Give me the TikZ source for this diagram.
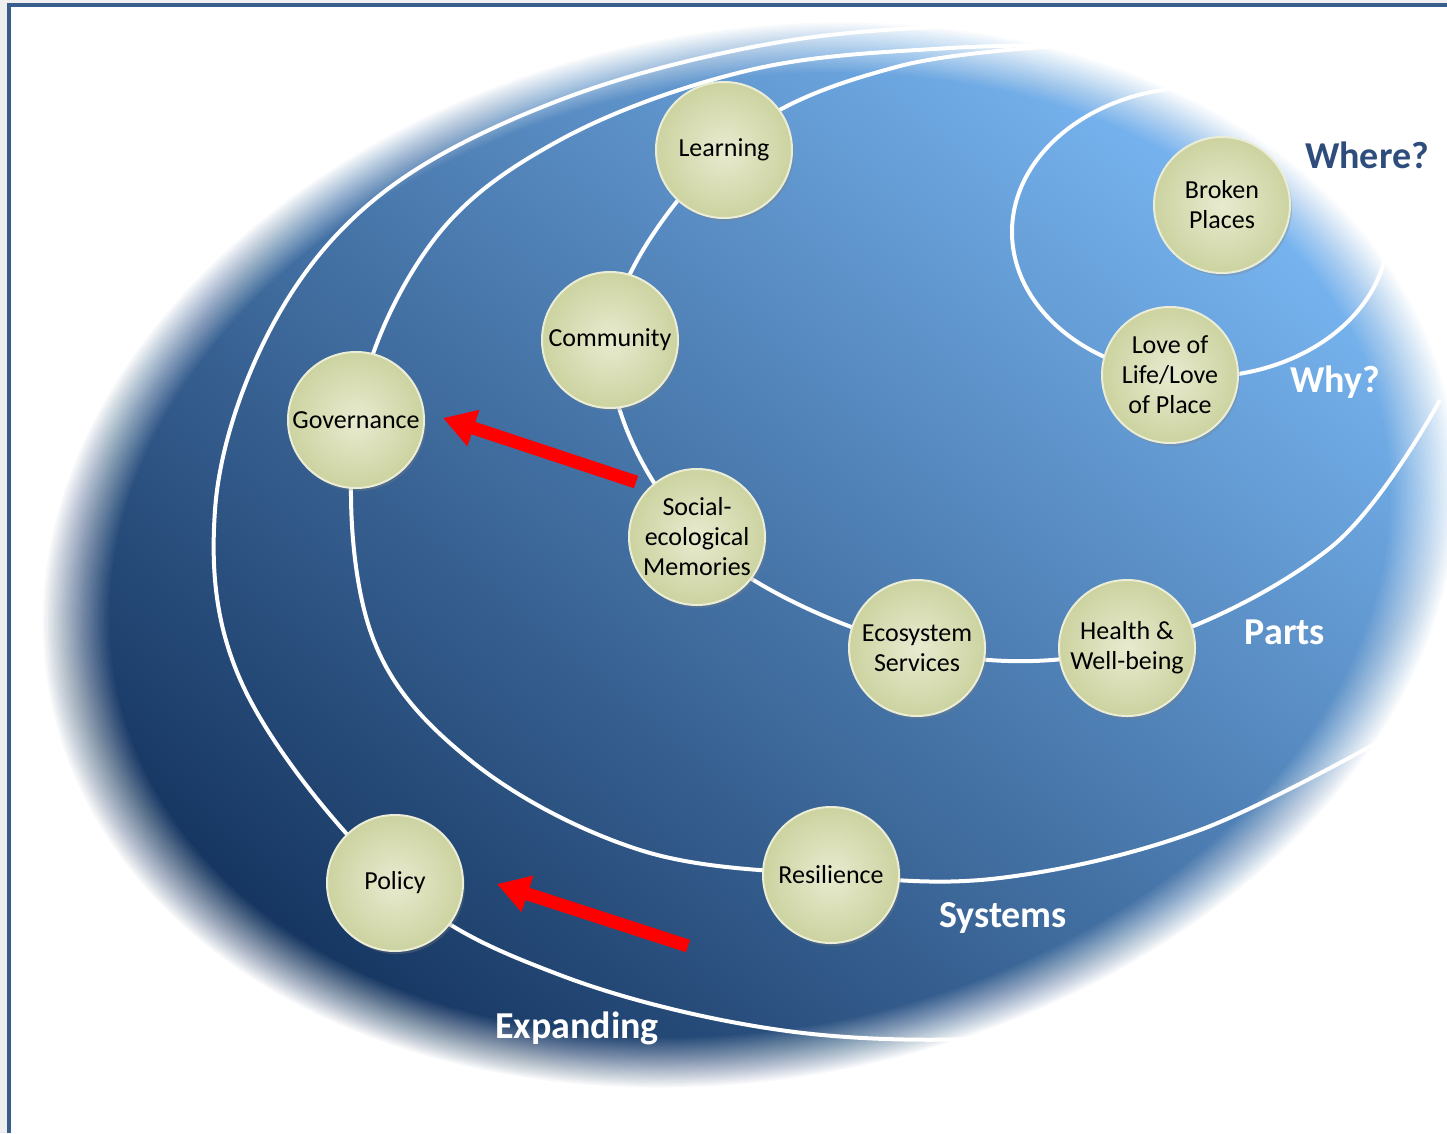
\documentclass[tikz,border=0pt]{standalone}
\usepackage{fontspec}
\setmainfont{Carlito}
\usetikzlibrary{arrows.meta,shadows}
\definecolor{frameblue}{HTML}{3A5E8C}
\definecolor{margingray}{HTML}{EFEFEF}
\definecolor{blueTop}{HTML}{7AB8F4}
\definecolor{blueMid}{HTML}{2C6FC2}
\definecolor{blueBot}{HTML}{0E2B55}
\definecolor{ballIn}{HTML}{E8EBD0}
\definecolor{ballOut}{HTML}{CCD3A0}
\definecolor{ballRim}{HTML}{EBEDD6}
\definecolor{wherecol}{HTML}{2E4D7C}
\pgfdeclarelayer{bg}
\pgfdeclarelayer{curves}
\pgfdeclarelayer{fade}
\pgfsetlayers{bg,curves,fade,main}
\begin{document}
\begin{tikzpicture}[x=1pt,y=-1pt,
  ball/.style={circle, minimum size=136pt, inner sep=-2pt, inner color=ballIn, outer color=ballOut, draw=ballRim, line width=2pt, drop shadow={shadow xshift=2pt, shadow yshift=-3pt, opacity=0.3}, font=\fontsize{26}{30}\selectfont, text=black, align=center},
  spiral/.style={white, line width=4pt},
  tag/.style={font=\bfseries\fontsize{38}{44}\selectfont, text=white},
  redarrow/.style={red, line width=13pt, -{Triangle[length=32pt,width=36pt]}}
]
\useasboundingbox (0,0) rectangle (1447,1133);

\begin{pgfonlayer}{bg}
\fill[white] (0,0) rectangle (1447,1133);
\shade[top color=blueTop, middle color=blueMid, bottom color=blueBot, shading angle=-40]
  (750,555) circle[x radius=730, y radius=535, rotate=12];
\end{pgfonlayer}

\begin{pgfonlayer}{fade}
\foreach \i in {1,...,28} {
  \pgfmathsetmacro\sc{0.935+0.1*\i/28}
  \pgfmathsetmacro\op{1/(29-\i)}
  \fill[white, opacity=\op, even odd rule] (-20,-20) rectangle (1470,1160)
    (750,555) circle[x radius={690*\sc}, y radius={505*\sc}, rotate=12];
}
\end{pgfonlayer}

% margin and frame
\fill[margingray] (0,0) rectangle (1447,3);
\fill[margingray] (0,0) rectangle (7,1133);
\fill[frameblue] (7,3) rectangle (1447,7);
\fill[frameblue] (7,3) rectangle (11,1133);

% nodes
\node[ball] (learning) at (724,150) {Learning};
\node[ball] (community) at (610,340) {Community};
\node[ball] (governance) at (356,420) {Governance};
\node[ball] (social) at (697,537) {Social-\\ecological\\Memories};
\node[ball] (eco) at (917,648) {Ecosystem\\Services};
\node[ball] (health) at (1127,648) {Health \&\\Well-being};
\node[ball] (broken) at (1222,205) {Broken\\Places};
\node[ball] (love) at (1170,375) {Love of\\Life/Love\\of Place};
\node[ball] (resilience) at (831,875) {Resilience};
\node[ball] (policy) at (395,883) {Policy};

% labels
\node[tag, text=wherecol] (where) at (1367,155) {Where?};
\node[tag] (why) at (1335,382) {Why?};
\node[tag] (parts) at (1285,632) {Parts};
\node[tag] (systems) at (1003,918) {Systems};
\node[tag] (expanding) at (577,1028) {Expanding};

% curves
\begin{pgfonlayer}{curves}
\draw[spiral] (1200,232) circle[x radius=188, y radius=145];
\draw[spiral] plot[smooth, tension=0.6] coordinates {(1130,42) (900,66) (learning.center) (community.center) (social.center) (eco.center) (health.center) (1330,548) (1440,400)};
\draw[spiral] plot[smooth, tension=0.6] coordinates {(1150,45) (950,48) (750,70) (560,140) (430,245) (governance.center) (370,630) (470,760) (640,850) (resilience.center) (1000,878) (1200,830) (1400,730)};
\draw[spiral] plot[smooth, tension=0.6] coordinates {(1200,30) (1000,25) (780,42) (560,100) (380,195) (270,330) (215,510) (245,690) (policy.center) (560,975) (780,1030) (1000,1038) (1200,1010)};
\end{pgfonlayer}

% arrows
\coordinate (t1) at (636,482);
\coordinate (h1) at (443,418);
\coordinate (t2) at (688,946);
\coordinate (h2) at (497,884);
\draw[redarrow] (t1) -- (h1);
\draw[redarrow] (t2) -- (h2);
\end{tikzpicture}
\end{document}
